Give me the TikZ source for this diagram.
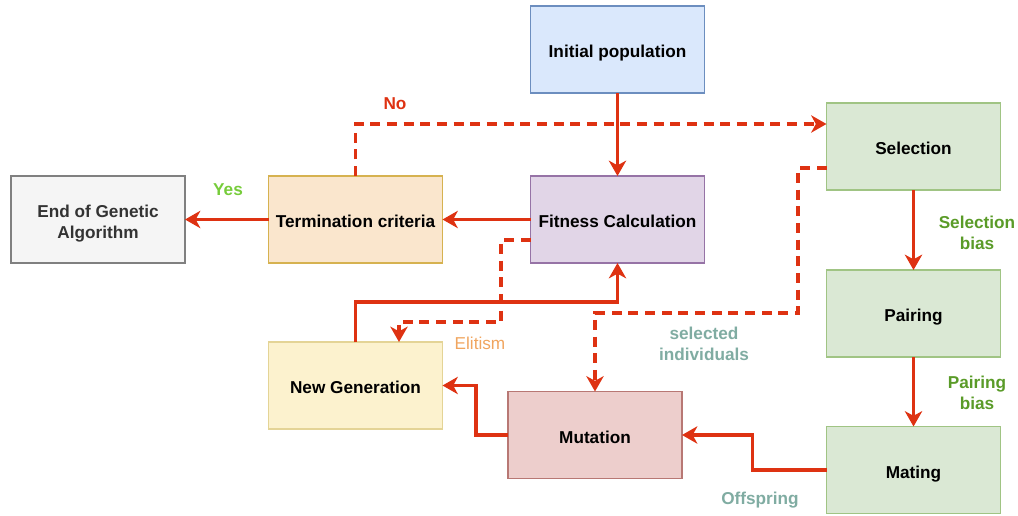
\documentclass[tikz,border=0pt]{standalone}
\usepackage{fontspec}
\setmainfont{Liberation Sans}
\usetikzlibrary{arrows.meta,calc}

\definecolor{flowred}{RGB}{222,50,18}
\definecolor{yesgreen}{RGB}{118,204,58}
\definecolor{biasgreen}{RGB}{90,155,40}
\definecolor{tealgray}{RGB}{128,172,162}
\definecolor{elitorange}{RGB}{240,165,95}

\tikzset{
  boxbase/.style={draw, line width=1.1pt, minimum width=130.5pt, minimum height=65.25pt,
    inner sep=0pt, outer sep=0pt,
    font=\fontsize{12.9}{15.75}\selectfont\bfseries},
  box/.style={boxbase, align=center},
  onebox/.style={boxbase, text height=12.2pt, text depth=0pt},
  flow/.style={draw=flowred, line width=2.3pt,
    -{Stealth[length=11.5pt,width=13pt,inset=3.5pt]}},
  dflow/.style={flow, dash pattern=on 7.5pt off 5pt},
  lbl/.style={align=center, inner sep=0pt,
    font=\fontsize{12.9}{15.75}\selectfont\bfseries},
}

\begin{document}
\begin{tikzpicture}[x=0.75pt,y=-0.75pt]
\useasboundingbox (0,0) rectangle (1018,515);

% process boxes
\node[onebox, fill={rgb,255:red,218;green,232;blue,252}, draw={rgb,255:red,108;green,142;blue,191}]
  (init) at (617.5,49.5) {Initial population};
\node[onebox, fill={rgb,255:red,225;green,213;blue,231}, draw={rgb,255:red,150;green,115;blue,166}]
  (fit) at (617.5,219.5) {Fitness Calculation};
\node[onebox, fill={rgb,255:red,250;green,230;blue,205}, draw={rgb,255:red,214;green,178;blue,80}]
  (term) at (355.5,219.5) {Termination criteria};
\node[box, fill={rgb,255:red,245;green,245;blue,245}, draw={rgb,255:red,128;green,128;blue,128},
  text={rgb,255:red,51;green,51;blue,51}]
  (endga) at (98,219.5)
  {\raisebox{-3.1pt}[\height][\depth]{\begin{tabular}{@{}c@{}}End of Genetic\\Algorithm\end{tabular}}};
\node[onebox, fill={rgb,255:red,218;green,232;blue,212}, draw={rgb,255:red,160;green,196;blue,132}]
  (sel) at (913.5,146.5) {Selection};
\node[onebox, fill={rgb,255:red,218;green,232;blue,212}, draw={rgb,255:red,160;green,196;blue,132}]
  (pair) at (913.5,313.5) {Pairing};
\node[onebox, fill={rgb,255:red,218;green,232;blue,212}, draw={rgb,255:red,160;green,196;blue,132}]
  (mate) at (913.5,470) {Mating};
\node[onebox, fill={rgb,255:red,252;green,242;blue,206}, draw={rgb,255:red,228;green,212;blue,150}]
  (ng) at (355.5,385.5) {New Generation};
\node[onebox, fill={rgb,255:red,237;green,206;blue,204}, draw={rgb,255:red,184;green,120;blue,116}]
  (mut) at (595,435) {Mutation};

% bend points and side ports
\coordinate (noin) at ($(sel.west |- 0,124)$);
\coordinate (selout) at ($(sel.west |- 0,168)$);
\coordinate (s1) at (798,313);
\coordinate (fitout) at ($(fit.west |- 0,240)$);
\coordinate (e1) at (501,322);
\coordinate (ngin) at ($(ng.north)+(43.5,0)$);
\coordinate (c2) at (617.5,302);

% solid connectors
\draw[flow] (init.south) -- (fit.north);
\draw[flow] (fit.west) -- (term.east);
\draw[flow] (term.west) -- (endga.east);
\draw[flow] (sel.south) -- (pair.north);
\draw[flow] (pair.south) -- (mate.north);
\draw[flow] (mate.west) -- ++(-74,0) |- (mut.east);
\draw[flow] (mut.west) -- ++(-32,0) |- (ng.east);
\draw[flow] (ng.north) |- (c2) -- (fit.south);

% dashed connectors
\draw[dflow] (term.north) |- (noin);
\draw[dflow] (selout) -| (s1) -| (mut.north);
\draw[dflow] (fitout) -| (e1) -| (ngin);

% connector labels
\node[lbl, text=flowred] (lno) at (395,104) {No};
\node[lbl, text=yesgreen] (lyes) at (228,190) {Yes};
\node[lbl, text=biasgreen] (lselb) at (977,233) {Selection\\bias};
\node[lbl, text=biasgreen] (lpairb) at (977,393) {Pairing\\bias};
\node[lbl, text=tealgray] (lsi) at (704,343.5) {selected\\individuals};
\node[align=center, inner sep=0pt, font=\fontsize{12.9}{15.75}\selectfont, text=elitorange]
  (lelit) at (480,343) {Elitism};
\node[lbl, text=tealgray] (loff) at (760,500) {Offspring};
\end{tikzpicture}
\end{document}
